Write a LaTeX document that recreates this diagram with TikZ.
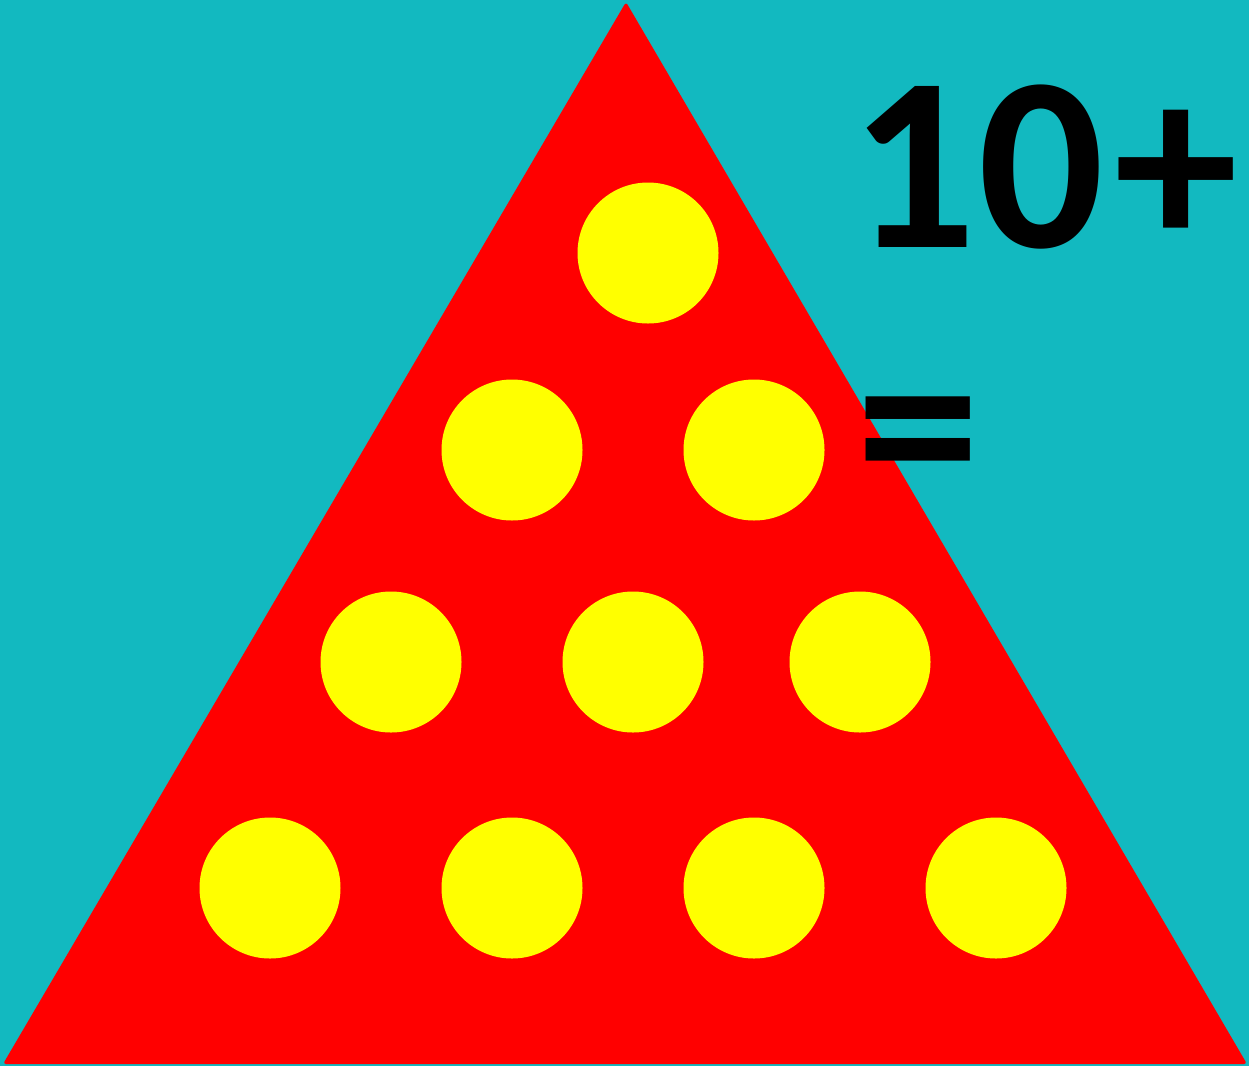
\documentclass[tikz,border=0pt]{standalone}
\usepackage{fontspec}
\setmainfont{Carlito}
\usepackage{tikz}
\usetikzlibrary{positioning, calc}
\usepackage{xcolor}
\definecolor{SeaTeal}{RGB}{18,185,192}
\definecolor{PegRed}{RGB}{255,0,0}
\definecolor{PegYellow}{RGB}{255,255,0}

\begin{document}
\begin{tikzpicture}[x=1pt, y=-1pt,
    peg/.style={circle, fill=PegYellow, minimum size=141pt, inner sep=0pt},
    sumtext/.style={font=\fontsize{248}{260}\selectfont\bfseries, inner sep=0pt, text=black}]
  % background and frame
  \fill[SeaTeal] (0,0) rectangle (1249,1066);
  \useasboundingbox (0,0) rectangle (1249,1066);
  \fill[PegRed, rounded corners=3pt] (626,2) -- (1247,1064) -- (3,1064) -- cycle;
  % pegs, row by row
  \node[peg] (p1) at (648,253) {};
  \foreach \n/\x in {2/512, 3/754}
    \node[peg] (p\n) at (\x,450) {};
  \foreach \n/\x in {4/391, 5/633, 6/860}
    \node[peg] (p\n) at (\x,662) {};
  \foreach \n/\x in {7/270, 8/512, 9/754, 10/996}
    \node[peg] (p\n) at (\x,888) {};
  % the sum
  \node[sumtext, anchor=base west] (sum) at (850,247) {1\kern3pt0\kern10pt+};
  \node[sumtext, anchor=base west] (equals) at (856,507) {=};
\end{tikzpicture}
\end{document}
